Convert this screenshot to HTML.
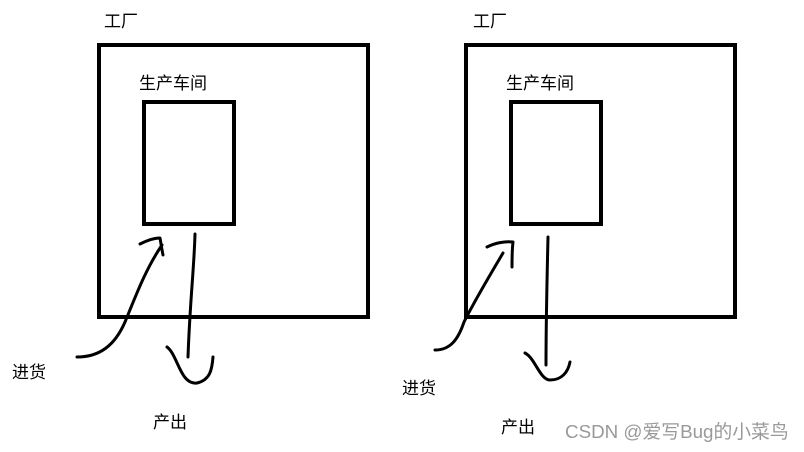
<!DOCTYPE html>
<html><head><meta charset="utf-8"><style>
html,body{margin:0;padding:0;background:#fff;}
body{width:804px;height:452px;overflow:hidden;position:relative;}
svg{position:absolute;left:0;top:0;}
text{font-family:"Liberation Sans","Noto Sans CJK SC",sans-serif;font-size:17px;fill:#000;}
</style></head><body>
<svg width="804" height="452" viewBox="0 0 804 452">
<g fill="none" stroke="#000" stroke-width="4">
<rect x="99" y="45" width="269" height="272"/>
<rect x="144" y="102" width="90" height="122"/>
<rect x="466" y="45" width="269" height="272"/>
<rect x="511" y="102" width="90" height="122"/>
</g>
<g fill="none" stroke="#000" stroke-width="3" stroke-linecap="round" stroke-linejoin="round">
<path d="M77,357 C100,357 115,345 125,322 C135,298 145,270 162,245"/>
<path d="M140,244 C148,240 155,238 160,238 C161,244 162,250 163,255"/>
<path d="M195,234 C194,270 190,300 188,357"/>
<path d="M167,347 C178,355 180,385 197,383 C210,380 212,370 213,357"/>
<path d="M435,350 C450,350 458,340 464,322 C475,300 490,275 503,253"/>
<path d="M487,247 C495,243 505,241 513,242 C512,250 512,258 512,267"/>
<path d="M548,237 C547,280 546,320 546,365"/>
<path d="M525,353 C535,358 540,380 550,380 C562,380 568,372 570,362"/>
</g>
<text x="104" y="27">工厂</text>
<text x="139" y="89">生产车间</text>
<text x="12" y="378">进货</text>
<text x="153" y="428">产出</text>
<text x="473" y="27">工厂</text>
<text x="506" y="89">生产车间</text>
<text x="402" y="394">进货</text>
<text x="501" y="433">产出</text>
<text x="565" y="438" style="fill:#999;font-size:18.8px">CSDN @爱写Bug的小菜鸟</text>
</svg>
</body></html>
